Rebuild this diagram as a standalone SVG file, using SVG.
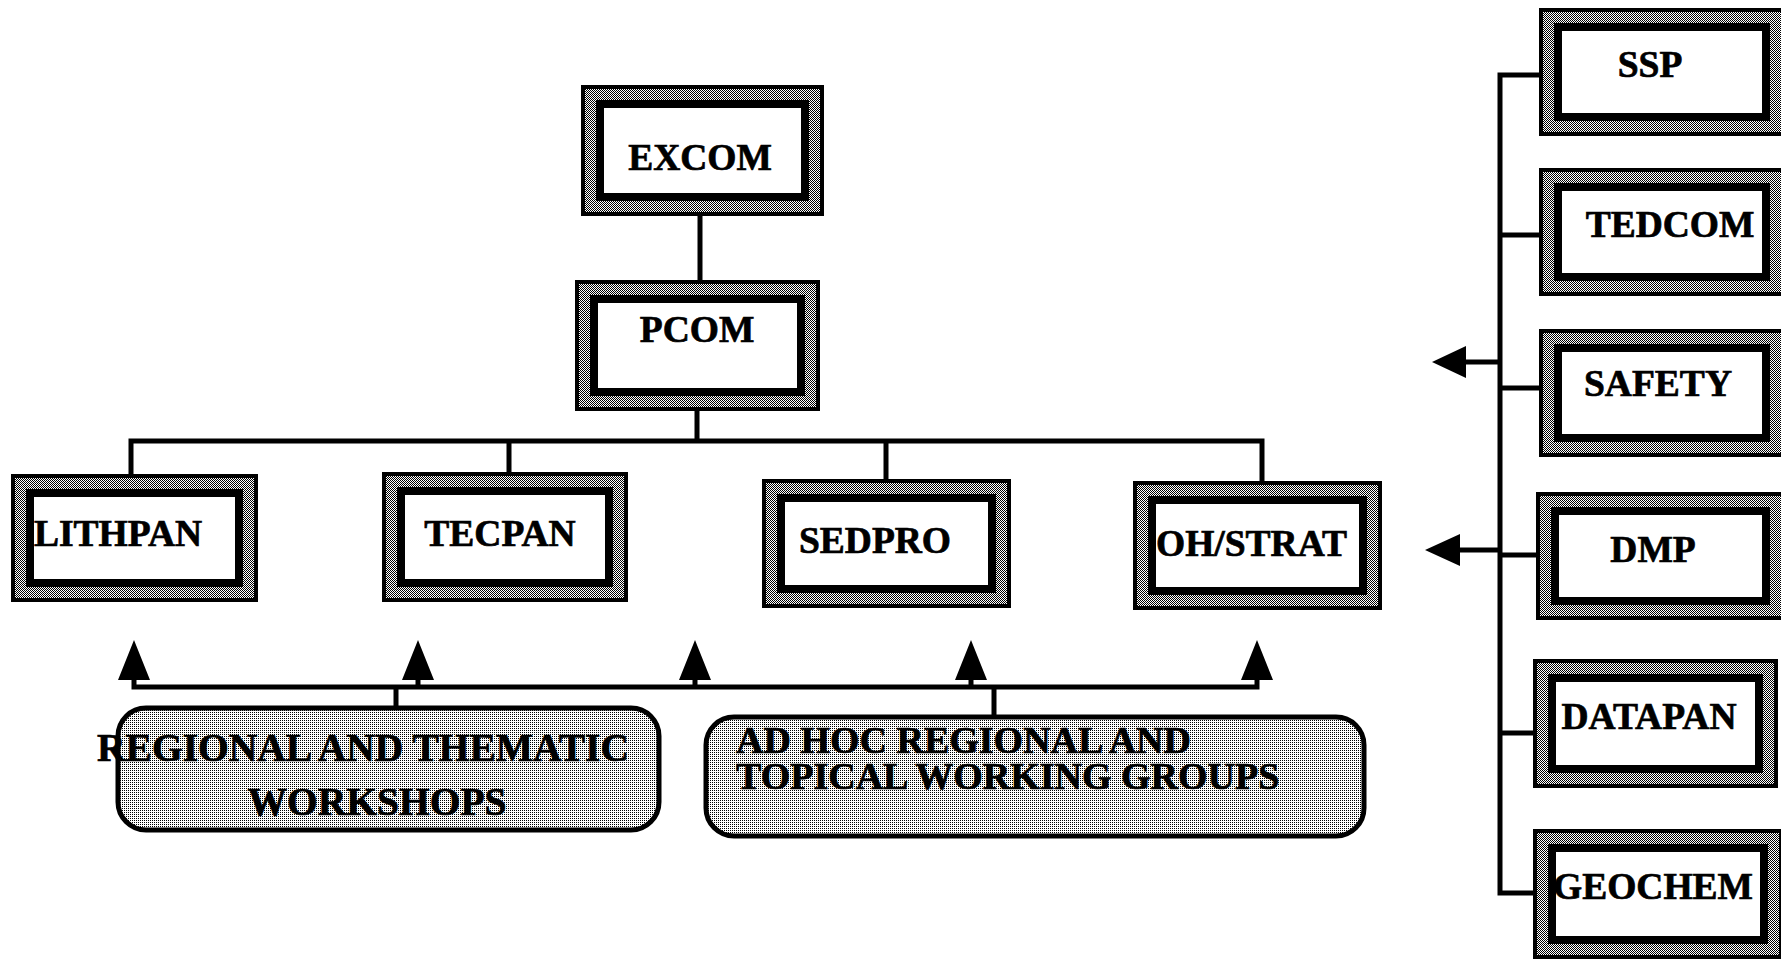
<svg xmlns="http://www.w3.org/2000/svg" width="1781" height="960" viewBox="0 0 1781 960">
<defs>
<pattern id="hatch" width="2" height="2" patternUnits="userSpaceOnUse">
<rect width="2" height="2" fill="#fff"/><rect width="1" height="1" fill="#000"/><rect x="1" y="1" width="1" height="1" fill="#000"/>
</pattern>
<pattern id="light" width="4" height="4" patternUnits="userSpaceOnUse">
<rect width="4" height="4" fill="#fff"/><rect width="1" height="1" fill="#000"/><rect x="2" y="2" width="1" height="1" fill="#000"/><rect x="2" y="0" width="1" height="1" fill="#000"/><rect x="0" y="2" width="1" height="1" fill="#000"/>
</pattern>
<style>
.ob{fill:url(#hatch);stroke:#000;stroke-width:4}
.ib{fill:#fff;stroke:#000;stroke-width:8}
.rb{fill:url(#light);stroke:#000;stroke-width:5}
.t,.tl{font-family:"Liberation Serif","Times New Roman",serif;font-weight:bold;font-size:37.5px;fill:#000;stroke:#000;stroke-width:0.7}
.t{text-anchor:middle}
.w{font-size:39.5px}
.a{font-size:38px}
.c{fill:none;stroke:#000;stroke-width:5}
.ah{fill:#000}
</style>
</defs>
<rect width="1781" height="960" fill="#fff"/>
<g id="connectors">
<path class="c" d="M700 216V280"/>
<path class="c" d="M697 411V441M131 474V441H1262V481M509 441V472M886 441V479"/>
<path class="c" d="M134 680V687H1257V680M418 687V680M695 687V680M971 687V680M396 687V707M994 687V716"/>
<path class="ah" d="M134 640L150 680H118Z M418 640L434 680H402Z M695 640L711 680H679Z M971 640L987 680H955Z M1257 640L1273 680H1241Z"/>
<path class="c" d="M1539 75H1500V893H1533M1500 235H1539M1500 388H1539M1500 555H1536M1500 733H1533M1500 362H1462M1500 550H1458"/>
<path class="ah" d="M1432 362L1466 346V378Z M1425 550L1460 534V566Z"/>
</g>
<g id="excom"><rect class="ob" x="583" y="87" width="239" height="127"/><rect class="ib" x="600" y="104" width="205" height="93"/><text class="t" x="700" y="170">EXCOM</text></g>
<g id="pcom"><rect class="ob" x="577" y="282" width="241" height="127"/><rect class="ib" x="594" y="299" width="207" height="93"/><text class="t" x="697" y="342">PCOM</text></g>
<g id="lithpan"><rect class="ob" x="13" y="476" width="243" height="124"/><rect class="ib" x="30" y="493" width="209" height="90"/><text class="tl" x="34" y="546">LITHPAN</text></g>
<g id="tecpan"><rect class="ob" x="384" y="474" width="242" height="126"/><rect class="ib" x="401" y="491" width="208" height="92"/><text class="t" x="500" y="546">TECPAN</text></g>
<g id="sedpro"><rect class="ob" x="764" y="481" width="245" height="125"/><rect class="ib" x="781" y="498" width="211" height="91"/><text class="t" x="875" y="553">SEDPRO</text></g>
<g id="ohstrat"><rect class="ob" x="1135" y="483" width="245" height="125"/><rect class="ib" x="1152" y="500" width="211" height="91"/><text class="tl" x="1156" y="556">OH/STRAT</text></g>
<g id="workshops"><rect class="rb" x="118" y="708" width="541" height="122" rx="28"/><text class="t w" x="363" y="761">REGIONAL AND THEMATIC</text><text class="t w" x="377" y="815">WORKSHOPS</text></g>
<g id="adhoc"><rect class="rb" x="706" y="717" width="658" height="119" rx="28"/><text class="tl a" x="736" y="753">AD HOC REGIONAL AND</text><text class="tl a" x="736" y="789">TOPICAL WORKING GROUPS</text></g>
<g id="ssp"><rect class="ob" x="1541" y="10" width="242" height="124"/><rect class="ib" x="1558" y="27" width="208" height="90"/><text class="t" x="1650" y="77">SSP</text></g>
<g id="tedcom"><rect class="ob" x="1541" y="170" width="242" height="124"/><rect class="ib" x="1558" y="187" width="208" height="90"/><text class="t" x="1670" y="237">TEDCOM</text></g>
<g id="safety"><rect class="ob" x="1541" y="331" width="242" height="124"/><rect class="ib" x="1558" y="348" width="208" height="90"/><text class="t" x="1658" y="396">SAFETY</text></g>
<g id="dmp"><rect class="ob" x="1538" y="494" width="245" height="124"/><rect class="ib" x="1555" y="511" width="211" height="90"/><text class="t" x="1653" y="562">DMP</text></g>
<g id="datapan"><rect class="ob" x="1535" y="661" width="241" height="125"/><rect class="ib" x="1552" y="678" width="207" height="91"/><text class="t" x="1649" y="729">DATAPAN</text></g>
<g id="geochem"><rect class="ob" x="1535" y="831" width="246" height="126"/><rect class="ib" x="1552" y="848" width="212" height="92"/><text class="t" x="1653" y="899">GEOCHEM</text></g>
</svg>
